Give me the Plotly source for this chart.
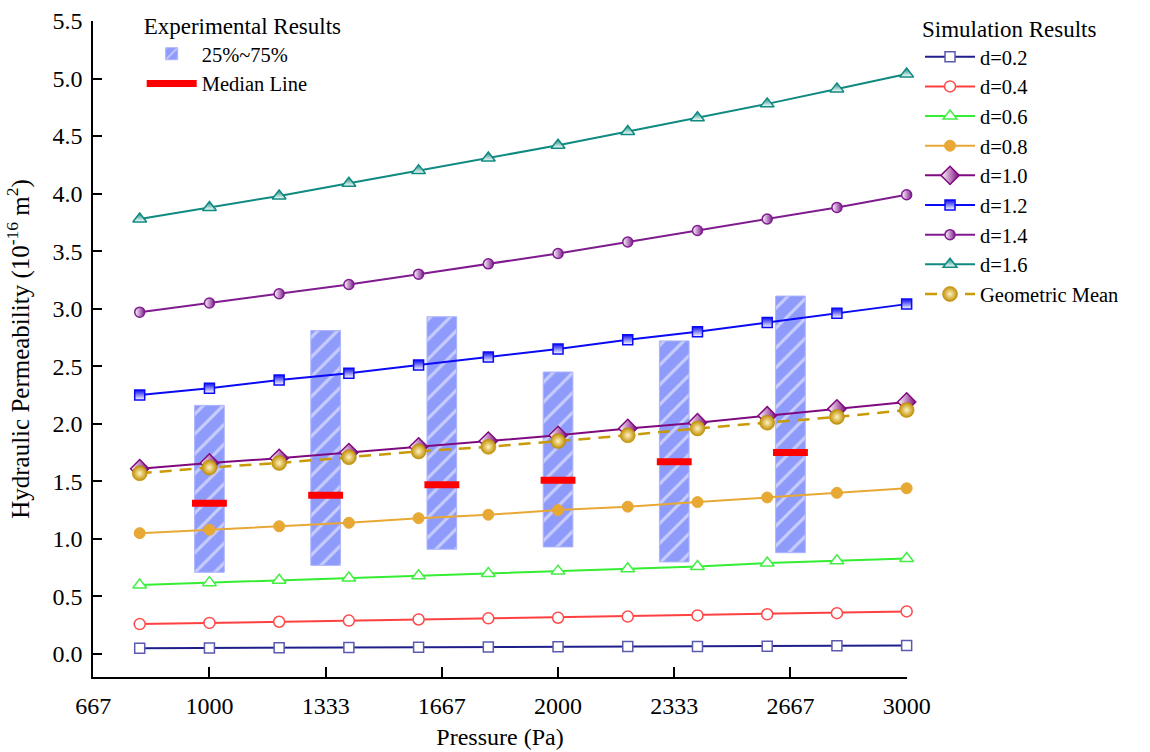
import plotly.graph_objects as go

# Pressure levels (Pa) for the simulation runs
pressure = [800, 1000, 1200, 1400, 1600, 1800, 2000, 2200, 2400, 2600, 2800, 3000]

# Simulated hydraulic permeability (1e-16 m^2) for each pore-size parameter d
d02 = [0.050, 0.052, 0.054, 0.056, 0.058, 0.060, 0.062, 0.064, 0.066, 0.068, 0.071, 0.073]
d04 = [0.26, 0.27, 0.28, 0.29, 0.30, 0.31, 0.315, 0.325, 0.335, 0.345, 0.355, 0.37]
d06 = [0.60, 0.62, 0.64, 0.66, 0.68, 0.70, 0.72, 0.74, 0.76, 0.79, 0.81, 0.83]
d08 = [1.05, 1.08, 1.11, 1.14, 1.18, 1.21, 1.25, 1.28, 1.32, 1.36, 1.40, 1.44]
d10 = [1.61, 1.66, 1.70, 1.75, 1.80, 1.85, 1.90, 1.96, 2.01, 2.07, 2.13, 2.19]
d12 = [2.25, 2.31, 2.38, 2.44, 2.51, 2.58, 2.65, 2.73, 2.80, 2.88, 2.96, 3.04]
d14 = [2.97, 3.05, 3.13, 3.21, 3.30, 3.39, 3.48, 3.58, 3.68, 3.78, 3.88, 3.99]
d16 = [3.78, 3.88, 3.98, 4.09, 4.20, 4.31, 4.42, 4.54, 4.66, 4.78, 4.91, 5.04]
geo_mean = [1.57, 1.62, 1.66, 1.71, 1.76, 1.80, 1.85, 1.90, 1.96, 2.01, 2.06, 2.12]

# Experimental results: interquartile range and median at each test pressure
exp_pressure = [1000, 1333.33, 1666.67, 2000, 2333.33, 2666.67]
exp_q25 = [0.71, 0.77, 0.91, 0.93, 0.80, 0.88]
exp_q75 = [2.16, 2.81, 2.93, 2.45, 2.72, 3.11]
exp_median = [1.31, 1.38, 1.47, 1.51, 1.67, 1.75]

# Axis ticks
x_tickvals = [666.67, 1000, 1333.33, 1666.67, 2000, 2333.33, 2666.67, 3000]
x_ticktext = ["667", "1000", "1333", "1667", "2000", "2333", "2667", "3000"]
y_tickvals = [i * 0.5 for i in range(12)]

FONT = "Liberation Serif, Times New Roman, serif"
BOX_WIDTH = 85        # Pa
MEDIAN_HALF = 50      # Pa

fig = go.Figure()

# Interquartile boxes (hatched)
fig.add_trace(go.Bar(
    x=exp_pressure,
    y=[hi - lo for hi, lo in zip(exp_q75, exp_q25)],
    base=exp_q25,
    width=BOX_WIDTH,
    name="25%~75%",
    legend="legend2",
    marker=dict(
        color="#8f9bfa",
        line=dict(color="#aab3fc", width=1),
        pattern=dict(shape="/", fgcolor="white", bgcolor="#8f9bfa",
                     size=14, solidity=0.22),
    ),
))

# Median segments
mx, my = [], []
for xc, m in zip(exp_pressure, exp_median):
    mx += [xc - MEDIAN_HALF, xc + MEDIAN_HALF, None]
    my += [m, m, None]
fig.add_trace(go.Scatter(
    x=mx, y=my, mode="lines", name="Median Line", legend="legend2",
    line=dict(color="#ff0000", width=7),
))

# Simulation series
series = [
    ("d=0.2", d02, "#1f1f8c", dict(symbol="square", size=10, color="white",
                                   line=dict(color="#5a5ab0", width=1.5))),
    ("d=0.4", d04, "#ff4040", dict(symbol="circle", size=11, color="white",
                                   line=dict(color="#ff4a4a", width=1.5))),
    ("d=0.6", d06, "#33ee33", dict(symbol="triangle-up", size=12, color="white",
                                   line=dict(color="#44ee44", width=1.5))),
    ("d=0.8", d08, "#e8a834", dict(symbol="circle", size=11, color="#e8a834",
                                   line=dict(color="#e8a834", width=1))),
    ("d=1.0", d10, "#7f0a7f", dict(symbol="diamond", size=14, color="white",
                                   gradient=dict(type="horizontal", color="#7f0a7f"),
                                   line=dict(color="#7f0a7f", width=1.5))),
    ("d=1.2", d12, "#0a0af5", dict(symbol="square", size=10, color="#0a0af5",
                                   gradient=dict(type="vertical", color="white"),
                                   line=dict(color="#0a0af5", width=1.5))),
    ("d=1.4", d14, "#7f1a8f", dict(symbol="circle", size=10, color="white",
                                   gradient=dict(type="horizontal", color="#7f1a8f"),
                                   line=dict(color="#7f1a8f", width=1.5))),
    ("d=1.6", d16, "#0f8a80", dict(symbol="triangle-up", size=12, color="#0f8a80",
                                   gradient=dict(type="vertical", color="white"),
                                   line=dict(color="#0f8a80", width=1.5))),
]
for name, vals, col, mk in series:
    fig.add_trace(go.Scatter(
        x=pressure, y=vals, mode="lines+markers", name=name, legend="legend",
        line=dict(color=col, width=2), marker=mk, cliponaxis=False,
    ))

fig.add_trace(go.Scatter(
    x=pressure, y=geo_mean, mode="lines+markers", name="Geometric Mean",
    legend="legend",
    line=dict(color="#c99a06", width=2.5, dash="12px,8px"),
    marker=dict(symbol="circle", size=15, color="#c08f00",
                gradient=dict(type="radial", color="#fff2c4"),
                line=dict(color="#b88800", width=0.5)),
    cliponaxis=False,
))

fig.update_layout(
    width=1150, height=752, autosize=False,
    paper_bgcolor="white", plot_bgcolor="white",
    margin=dict(l=93, r=243, t=4, b=75),
    font=dict(family=FONT, size=24, color="black"),
    barmode="overlay",
    showlegend=True,
    xaxis=dict(
        range=[666.0, 3001.0], tickvals=x_tickvals, ticktext=x_ticktext,
        ticks="inside", ticklen=10, tickwidth=1.5, tickcolor="black",
        showline=True, linewidth=1.5, linecolor="black",
        showgrid=False, zeroline=False, ticklabelstandoff=6,
        tickfont=dict(size=24), automargin="bottom",
        title=dict(text="Pressure (Pa)", standoff=11, font=dict(size=24)),
    ),
    yaxis=dict(
        domain=[0, 0.97474],
        range=[-0.2, 5.5], tickvals=y_tickvals, tickformat=".1f",
        ticks="inside", ticklen=9, tickwidth=1.5, tickcolor="black",
        showline=True, linewidth=1.5, linecolor="black",
        showgrid=False, zeroline=False, ticklabelstandoff=4,
        tickfont=dict(size=24), automargin="left",
        title=dict(text="Hydraulic Permeability (10<sup>-16</sup> m<sup>2</sup>)",
                   standoff=16, font=dict(size=25)),
    ),
    legend=dict(
        x=1.016, xanchor="left", y=0.9955, yanchor="top",
        bgcolor="rgba(0,0,0,0)", itemwidth=50,
        font=dict(family=FONT, size=20.5),
        title=dict(text="Simulation Results", font=dict(family=FONT, size=23)),
    ),
    legend2=dict(
        x=0.0598, xanchor="left", y=1.0, yanchor="top",
        bgcolor="rgba(0,0,0,0)", itemwidth=50,
        font=dict(family=FONT, size=20.5),
        title=dict(text="Experimental Results", font=dict(family=FONT, size=23)),
    ),
)

fig.write_html("out.html")
